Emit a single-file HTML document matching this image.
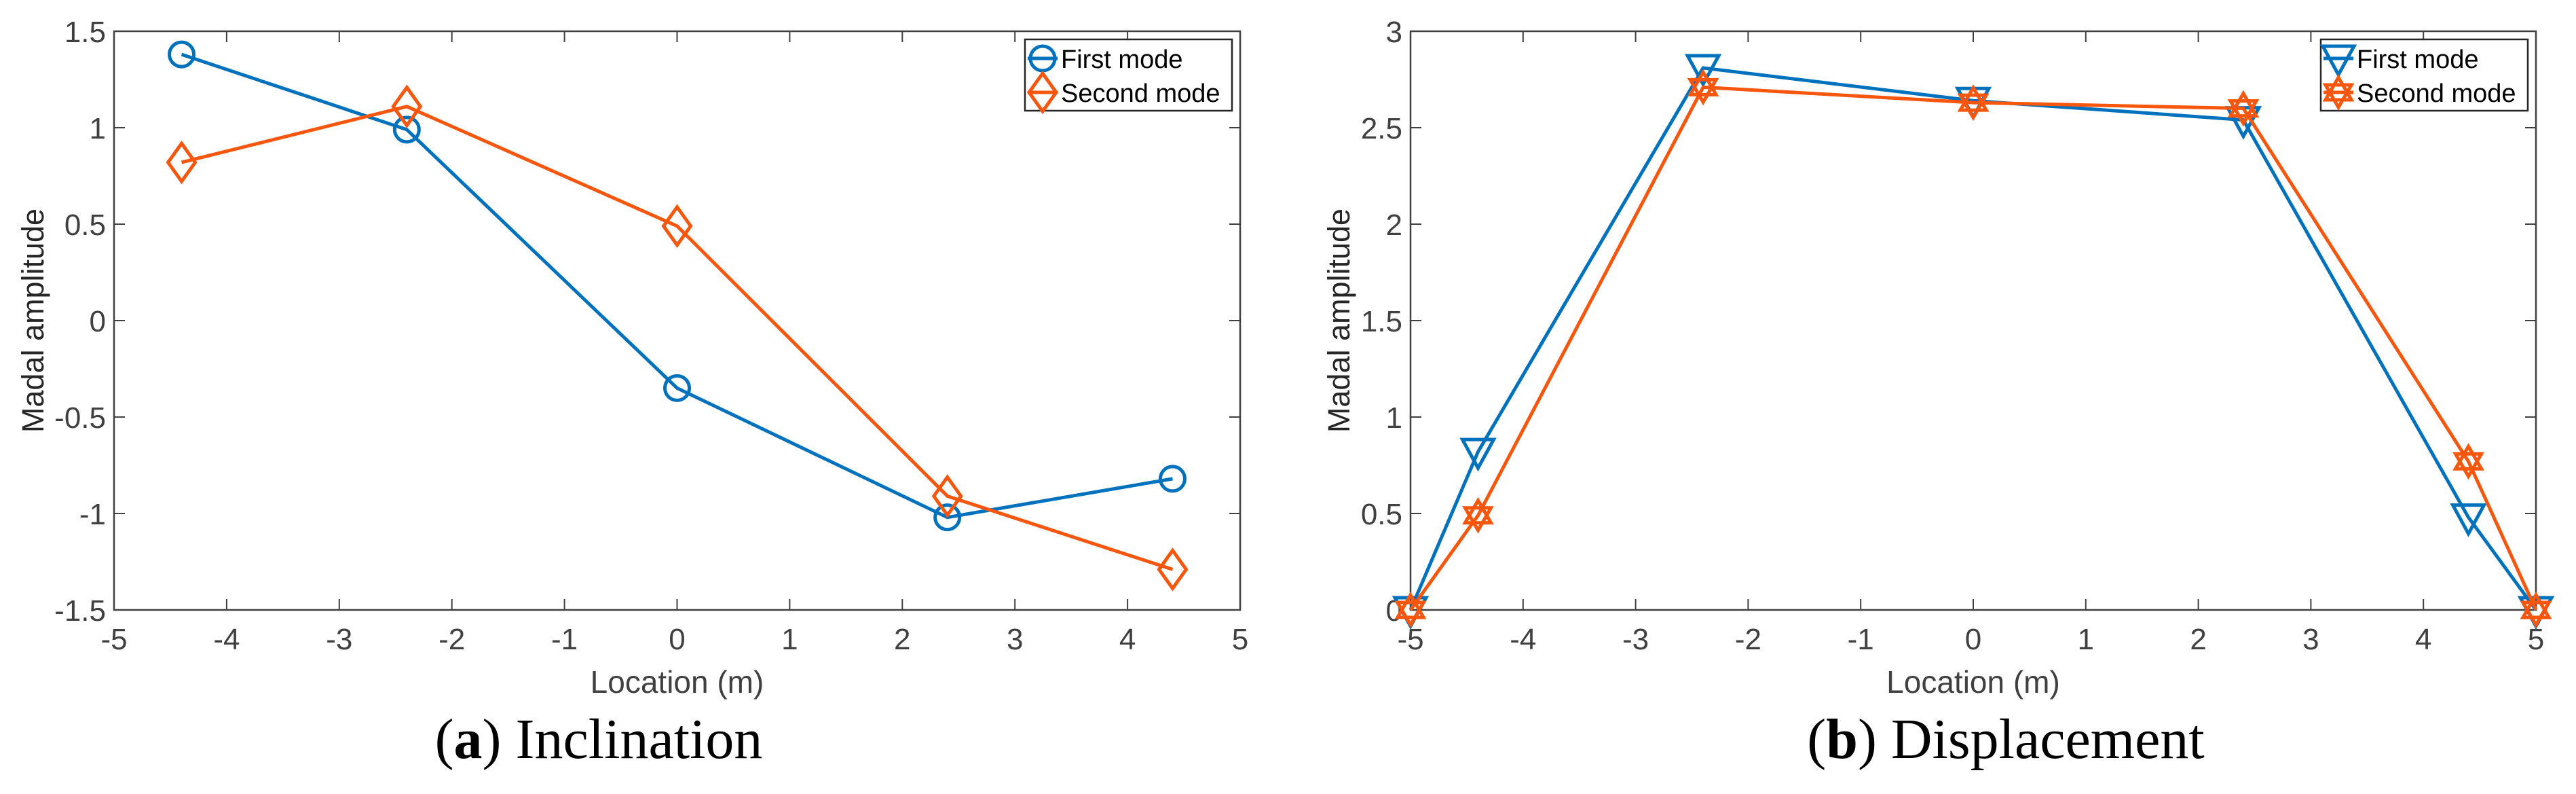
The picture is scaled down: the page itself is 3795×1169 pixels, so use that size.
<!DOCTYPE html>
<html><head><meta charset="utf-8"><style>
html,body{margin:0;padding:0;background:#fff;}
svg{display:block;}
</style></head><body>
<svg id="fig" width="3795" height="1169" viewBox="0 0 3795 1169" xmlns="http://www.w3.org/2000/svg"></svg>
<script>
// Panel (a) Inclination data
const xLocA = [-4.4, -2.4, 0, 2.4, 4.4];
const firstModeA = [1.38, 0.99, -0.35, -1.02, -0.82];
const secondModeA = [0.82, 1.11, 0.49, -0.91, -1.29];
const yTicksA = [-1.5, -1, -0.5, 0, 0.5, 1, 1.5];
const yTickLabelsA = ["-1.5","-1","-0.5","0","0.5","1","1.5"];
// Panel (b) Displacement data
const xLocB = [-5, -4.4, -2.4, 0, 2.4, 4.4, 5];
const firstModeB = [0, 0.82, 2.81, 2.64, 2.54, 0.48, 0];
const secondModeB = [0, 0.49, 2.71, 2.63, 2.60, 0.77, 0];
const yTicksB = [0, 0.5, 1, 1.5, 2, 2.5, 3];
const yTickLabelsB = ["0","0.5","1","1.5","2","2.5","3"];
const xTicks = [-5,-4,-3,-2,-1,0,1,2,3,4,5];
const xTickLabels = ["-5","-4","-3","-2","-1","0","1","2","3","4","5"];
const seriesNames = ["First mode","Second mode"];

const NS="http://www.w3.org/2000/svg";
const svg=document.getElementById('fig');
const BLUE="#0072BD", ORANGE="#F9560D", AX="#404040";
function mk(tag,attrs,parent){const e=document.createElementNS(NS,tag);for(const k in attrs)e.setAttribute(k,attrs[k]);(parent||svg).appendChild(e);return e;}

function marker(g,type,cx,cy,color){
  let e;
  if(type==='circle'){e=mk('circle',{cx:cx,cy:cy,r:18,fill:'none',stroke:color,'stroke-width':5},g);}
  else if(type==='diamond'){e=mk('polygon',{points:`${cx},${cy-28} ${cx+20},${cy} ${cx},${cy+28} ${cx-20},${cy}`,fill:'none',stroke:color,'stroke-width':5},g);}
  else if(type==='tri'){e=mk('polygon',{points:`${cx-23},${cy-18} ${cx+23},${cy-18} ${cx},${cy+24}`,fill:'none',stroke:color,'stroke-width':5},g);}
  else {const r=22;let p1=[],p2=[];for(let i=0;i<3;i++){const a1=-Math.PI/2+i*2*Math.PI/3,a2=Math.PI/2+i*2*Math.PI/3;p1.push((cx+r*Math.cos(a1)).toFixed(1)+','+(cy+r*Math.sin(a1)).toFixed(1));p2.push((cx+r*Math.cos(a2)).toFixed(1)+','+(cy+r*Math.sin(a2)).toFixed(1));}
    e=mk('g',{},g);mk('polygon',{points:p1.join(' '),fill:'none',stroke:color,'stroke-width':5},e);mk('polygon',{points:p2.join(' '),fill:'none',stroke:color,'stroke-width':5},e);}
  return e;
}

function panel(o){
  const g=mk('g',{});
  
  
  const L=o.left,R=o.right,T=46,B=898;
  const sx=v=>L+(v-(-5))/10*(R-L);
  const sy=v=>B-(v-o.ymin)/(o.ymax-o.ymin)*(B-T);
  // ticks
  xTicks.forEach((v,i)=>{const x=sx(v);
    mk('line',{x1:x,y1:B,x2:x,y2:B-16,stroke:AX,'stroke-width':2},g);
    mk('line',{x1:x,y1:T,x2:x,y2:T+16,stroke:AX,'stroke-width':2},g);
    const t=mk('text',{x:x,y:956,'text-anchor':'middle','font-family':'Liberation Sans, sans-serif','font-size':44,fill:AX},g);t.textContent=xTickLabels[i];
    
    });
  o.yt.forEach((v,i)=>{const y=sy(v);
    mk('line',{x1:L,y1:y,x2:L+16,y2:y,stroke:AX,'stroke-width':2},g);
    mk('line',{x1:R,y1:y,x2:R-16,y2:y,stroke:AX,'stroke-width':2},g);
    const t=mk('text',{x:L-12,y:y+16,'text-anchor':'end','font-family':'Liberation Sans, sans-serif','font-size':44,fill:AX},g);t.textContent=o.ytl[i];
    
    });
  const box=mk('rect',{x:L,y:T,width:R-L,height:B-T,fill:'none',stroke:AX,'stroke-width':2.5},g);
  
  
  // series
  o.series.forEach((s,si)=>{
    const sg=mk('g',{},g);
    
    
    const pts=s.y.map((v,i)=>sx(o.x[i]).toFixed(1)+','+sy(v).toFixed(1)).join(' ');
    mk('polyline',{points:pts,fill:'none',stroke:s.c,'stroke-width':5,'stroke-linejoin':'miter'},sg);
    s.y.forEach((v,i)=>{const m=marker(sg,s.m,sx(o.x[i]),sy(v),s.c);
      
      });
  });
  // legend
  const lg=mk('g',{},g);
  
  
  mk('rect',{x:o.lx,y:58,width:305,height:105,fill:'#fff',stroke:'#262626','stroke-width':2.5},lg);
  o.series.forEach((s,si)=>{const cy=si===0?86:136;const mx=o.lx+26;
    mk('line',{x1:mx-22,y1:cy,x2:mx+22,y2:cy,stroke:s.c,'stroke-width':5},lg);
    marker(lg,s.m,mx,cy,s.c);
    const t=mk('text',{x:o.lx+53,y:cy+14,'font-family':'Liberation Sans, sans-serif','font-size':38,fill:'#000'},lg);t.textContent=seriesNames[si];
    
    });
  // labels
  const xl=mk('text',{x:(L+R)/2,y:1020,'text-anchor':'middle','font-family':'Liberation Sans, sans-serif','font-size':46,fill:AX},g);xl.textContent='Location (m)';
  
  
  const yl=mk('text',{x:0,y:0,'text-anchor':'middle','font-family':'Liberation Sans, sans-serif','font-size':45,fill:'#262626',transform:`translate(${o.ylx},472) rotate(-90)`},g);yl.textContent='Madal amplitude';
  
  
  const cap=mk('text',{x:o.capx,y:1116,'text-anchor':'middle','font-family':'Liberation Serif, serif','font-size':84,fill:'#000'},g);
  const b=mk('tspan',{'font-weight':'bold'},cap);
  cap.insertBefore(document.createTextNode('('),b);b.textContent=o.capL;
  cap.appendChild(document.createTextNode(') '+o.capT));
  
  
}
panel({name:'panel-a-inclination',left:168,right:1827,ymin:-1.5,ymax:1.5,yt:yTicksA,ytl:yTickLabelsA,x:xLocA,
  series:[{y:firstModeA,c:BLUE,m:'circle'},{y:secondModeA,c:ORANGE,m:'diamond'}],lx:1510,ylx:64,capx:882,capL:'a',capT:'Inclination'});
panel({name:'panel-b-displacement',left:2078,right:3736,ymin:0,ymax:3,yt:yTicksB,ytl:yTickLabelsB,x:xLocB,
  series:[{y:firstModeB,c:BLUE,m:'tri'},{y:secondModeB,c:ORANGE,m:'hex'}],lx:3419,ylx:1988,capx:2955,capL:'b',capT:'Displacement'});
</script>
</body></html>
